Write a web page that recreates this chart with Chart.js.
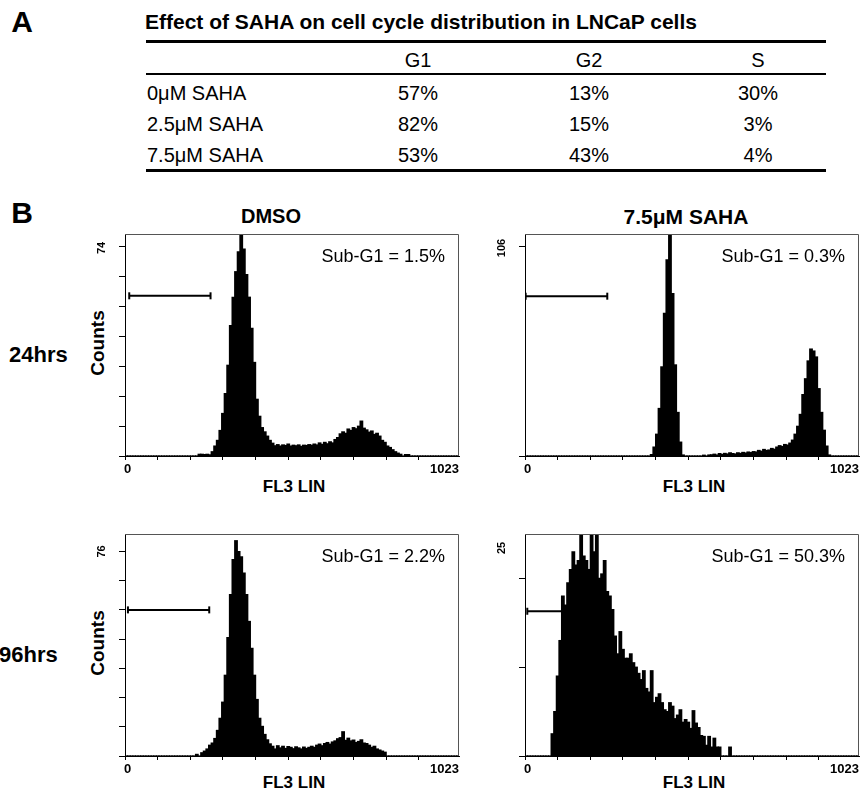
<!DOCTYPE html>
<html>
<head>
<meta charset="utf-8">
<script src="https://cdn.jsdelivr.net/npm/chart.js@4.4.0/dist/chart.umd.min.js"></script>
<style>
  body {
    margin: 0;
    width: 864px;
    height: 792px;
    position: relative;
    overflow: hidden;
    background: #fff;
    color: #000;
    font-family: "Liberation Sans", Arial, sans-serif;
  }
  .t { position: absolute; white-space: nowrap; line-height: 1; }
  .c { transform: translate(-50%, -50%); }
  .l { transform: translate(0, -50%); }
  .b { font-weight: bold; }
  .rot { transform: translate(-50%, -50%) rotate(-90deg); }
  .rule { position: absolute; left: 146px; width: 680px; background: #000; }
  canvas { position: absolute; }
</style>
</head>
<body>

<div class="t c b" style="left:22px; top:22px; font-size:30px;">A</div>
<div class="t l b" id="tableTitle" style="left:145px; top:21px; font-size:21px;"></div>
<div class="rule" style="top:40px; height:3px;"></div>
<div class="rule" style="top:73px; height:2px;"></div>
<div class="rule" style="top:169px; height:3px;"></div>
<div id="tableBox"></div>

<div class="t c b" style="left:22px; top:213px; font-size:30px;">B</div>
<div class="t c b" style="left:271px; top:216px; font-size:20px;">DMSO</div>
<div class="t c b" style="left:686px; top:216px; font-size:21px;">7.5μM SAHA</div>
<div class="t l b" style="left:9px; top:355px; font-size:22px;">24hrs</div>
<div class="t l b" style="left:-1px; top:655px; font-size:22px;">96hrs</div>
<div class="t rot b" style="left:97px; top:343px; font-size:19px;">Counts</div>
<div class="t rot b" style="left:97px; top:643px; font-size:19px;">Counts</div>
<div class="t c b" style="left:294px; top:486px; font-size:17px;">FL3 LIN</div>
<div class="t c b" style="left:694px; top:486px; font-size:17px;">FL3 LIN</div>
<div class="t c b" style="left:294px; top:782px; font-size:17px;">FL3 LIN</div>
<div class="t c b" style="left:694px; top:782px; font-size:17px;">FL3 LIN</div>

<canvas id="h0" width="374" height="250" style="left:91px; top:228px;"></canvas>
<canvas id="h1" width="374" height="250" style="left:491px; top:228px;"></canvas>
<canvas id="h2" width="374" height="250" style="left:91px; top:528px;"></canvas>
<canvas id="h3" width="374" height="250" style="left:491px; top:528px;"></canvas>

<script>
// -------------------------
// DATOS PANEL A (tabla)
// -------------------------
const tableTitle = "Effect of SAHA on cell cycle distribution in LNCaP cells";
const tableColumns = ["G1", "G2", "S"];
const tableRows = ["0μM SAHA", "2.5μM SAHA", "7.5μM SAHA"];
const g1Values = [57, 82, 53];
const g2Values = [13, 15, 43];
const sValues = [30, 3, 4];

// -------------------------
// DATOS PANEL B (histogramas FL3 LIN, canales de 8)
// -------------------------
const binWidth = 8;
const channelStarts = [
  0, 8, 16, 24, 32, 40, 48, 56, 64, 72, 80, 88, 96, 104, 112, 120,
  128, 136, 144, 152, 160, 168, 176, 184, 192, 200, 208, 216, 224, 232, 240, 248,
  256, 264, 272, 280, 288, 296, 304, 312, 320, 328, 336, 344, 352, 360, 368, 376,
  384, 392, 400, 408, 416, 424, 432, 440, 448, 456, 464, 472, 480, 488, 496, 504,
  512, 520, 528, 536, 544, 552, 560, 568, 576, 584, 592, 600, 608, 616, 624, 632,
  640, 648, 656, 664, 672, 680, 688, 696, 704, 712, 720, 728, 736, 744, 752, 760,
  768, 776, 784, 792, 800, 808, 816, 824, 832, 840, 848, 856, 864, 872, 880, 888,
  896, 904, 912, 920, 928, 936, 944, 952, 960, 968, 976, 984, 992, 1000, 1008, 1016
];

// DMSO 24hrs
const dmso24 = [
  0, 0, 0, 0, 0, 0, 0, 0, 0, 0, 0, 0, 0, 0, 0, 0,
  0, 0, 0, 0, 0, 0, 0, 0, 0, 0, 0, 0, 0.6, 0.6, 0.5, 0.6,
  0.4, 1.5, 3.5, 5.5, 9, 15, 22, 32, 46, 56, 65, 72, 78, 73, 64, 56,
  45, 33, 20, 14, 10, 8.5, 7, 5.5, 4.5, 3.6, 4.0, 3.5, 3.9, 3.7, 4.2, 3.5,
  3.8, 3.6, 3.9, 3.4, 3.8, 3.7, 4.0, 3.8, 4.2, 3.9, 4.6, 4.1, 4.8, 4.3, 5.0, 4.6,
  5.8, 6.5, 7.8, 8.5, 8.0, 9.5, 9.0, 10.0, 9.6, 10.5, 12.3, 9.8, 9.2, 8.4, 8.8, 7.6,
  8.0, 7.0, 5.5, 4.8, 3.5, 3.0, 2.2, 1.5, 1.0, 0.6, 0, 0.5, 0.5, 0, 0, 0,
  0, 0, 0, 0, 0, 0, 0, 0, 0, 0, 0, 0, 0, 0, 0, 0
];

// 7.5uM SAHA 24hrs
const saha24 = [
  0, 0, 0, 0, 0, 0, 0, 0, 0, 0, 0, 0, 0, 0, 0, 0,
  0, 0, 0, 0, 0, 0, 0, 0, 0, 0, 0, 0, 0, 0, 0, 0,
  0, 0, 0, 0, 0, 0, 0, 0, 0, 0, 0, 0, 0, 0, 0, 0,
  0.7, 4.5, 11, 24, 45, 72, 99, 112, 82, 46, 22, 7, 0.5, 0, 0, 0,
  0, 0, 0, 0, 0.4, 0, 0.5, 0.6, 0.9, 0.5, 1.2, 0.8, 1.3, 1.0, 1.6, 1.2,
  1.0, 1.6, 1.3, 1.8, 1.5, 2.0, 1.7, 2.2, 2.0, 2.8, 2.4, 3.3, 2.8, 3.0, 3.8, 3.4,
  4.5, 5.2, 4.8, 5.8, 5.5, 6.5, 8, 11, 15, 21, 31, 39, 48, 54, 53, 50,
  34, 22, 13, 5, 0.5, 0, 0, 0, 0, 0, 0, 0, 0, 0, 0, 0
];

// DMSO 96hrs
const dmso96 = [
  0, 0, 0, 0, 0, 0, 0, 0, 0, 0, 0, 0, 0, 0, 0, 0,
  0, 0, 0, 0, 0, 0, 0, 0, 0, 0, 0, 0.6, 0, 1.2, 1.8, 2.6,
  4, 4.8, 6.5, 9.5, 14, 20, 30, 44, 60, 73, 80, 76, 74, 68, 60, 50,
  40, 30, 21, 14, 11, 8, 6, 4.5, 3.6, 2.6, 3.8, 3.0, 3.6, 2.8, 3.5, 3.2,
  2.7, 3.4, 3.0, 2.6, 3.3, 2.8, 3.2, 3.6, 3.2, 4.0, 4.4, 3.8, 4.6, 5.0, 4.4, 5.2,
  5.6, 6.4, 6.8, 9.0, 5.8, 6.6, 5.6, 5.9, 5.0, 5.4, 6.0, 4.8, 4.6, 4.0, 3.2, 3.6,
  2.6, 2.2, 1.8, 1.4, 0, 0, 0, 0, 0, 0, 0, 0, 0, 0, 0, 0,
  0, 0, 0, 0, 0, 0, 0, 0, 0, 0, 0, 0, 0, 0, 0, 0
];

// 7.5uM SAHA 96hrs
const saha96 = [
  0, 0, 0, 0, 0, 0, 0, 0, 0, 0, 2.5, 5, 9, 13, 18, 17,
  19.5, 21, 23, 21.5, 22, 25, 22.5, 22, 21, 25, 23, 25, 20, 20.5, 22, 18.5,
  18, 16.5, 13.5, 11.5, 14, 12, 11, 11, 11.5, 10.5, 10, 9.3, 8.6, 9.6, 7.6, 7.2,
  9.6, 6, 6.6, 7, 6, 5.2, 5, 6, 5.6, 4.2, 4.6, 5.2, 3.8, 4.1, 3.8, 3.1,
  5.1, 3.7, 3.2, 2.3, 2.2, 1.2, 2.2, 1, 2, 1, 1, 0, 0, 0, 1, 0,
  0, 0, 0, 0, 0, 0, 0, 0, 0, 0, 0, 0, 0, 0, 0, 0,
  0, 0, 0, 0, 0, 0, 0, 0, 0, 0, 0, 0, 0, 0, 0, 0,
  0, 0, 0, 0, 0, 0, 0, 0, 0, 0, 0, 0, 0, 0, 0, 0
];

const histograms = [dmso24, saha24, dmso96, saha96];
const subG1 = [1.5, 0.3, 2.2, 50.3];
const yTopLabels = [74, 106, 76, 25];
const yMaxValues = [78.3, 112.1, 82.5, 25];
const yTickSteps = [74 / 7, 106, 76 / 7, 10];
const xTicks = [0, 100, 200, 300, 400, 500, 600, 700, 800, 900];
const xMax = 1023;

// marcador Sub-G1 (canal inicio, canal fin, altura)
const gateStart = [13, 2, 9, 7];
const gateEnd = [262, 252, 258, 250];
const gateLevel = [56.5, 80.7, 54.3, 16.3];

const FONT = '"Liberation Sans", Arial, sans-serif';

// -------------------------
// TABLA
// -------------------------
function addText(txt, x, y, cls, size) {
    const d = document.createElement("div");
    d.className = "t " + cls;
    d.style.left = x + "px";
    d.style.top = y + "px";
    d.style.fontSize = size + "px";
    d.textContent = txt;
    document.getElementById("tableBox").appendChild(d);
}

function buildTable() {
    document.getElementById("tableTitle").textContent = tableTitle;
    const colX = [418, 589, 758];
    const rowY = [93, 124, 155];
    tableColumns.forEach((c, j) => addText(c, colX[j], 60, "c", 20));
    tableRows.forEach((r, i) => {
        addText(r, 147, rowY[i], "l", 20);
        addText(g1Values[i] + "%", colX[0], rowY[i], "c", 20);
        addText(g2Values[i] + "%", colX[1], rowY[i], "c", 20);
        addText(sValues[i] + "%", colX[2], rowY[i], "c", 20);
    });
}

// -------------------------
// DECORACION DEL MARCO
// -------------------------
const facsDecor = {
    id: "facsDecor",
    afterDraw(chart, args, opts) {
        const ctx = chart.ctx;
        const a = chart.chartArea;
        const y = chart.scales.y;

        ctx.save();
        // borde superior y derecho
        ctx.strokeStyle = "#555";
        ctx.lineWidth = 1;
        ctx.beginPath();
        ctx.moveTo(a.left, a.top + 0.5);
        ctx.lineTo(a.right - 0.5, a.top + 0.5);
        ctx.lineTo(a.right - 0.5, a.bottom);
        ctx.stroke();

        ctx.fillStyle = "#000";

        // 0 y 1023 en eje x
        ctx.font = "bold 13px " + FONT;
        ctx.textBaseline = "top";
        ctx.textAlign = "left";
        ctx.fillText("0", a.left - 1, a.bottom + 7);
        ctx.textAlign = "right";
        ctx.fillText(String(xMax), a.right, a.bottom + 7);

        // Sub-G1
        ctx.font = "18px " + FONT;
        ctx.textBaseline = "middle";
        ctx.fillText("Sub-G1 = " + opts.subG1 + "%", a.right - 14, a.top + 23);

        // etiqueta maxima eje y (girada)
        ctx.font = "bold 11px " + FONT;
        ctx.textAlign = "center";
        const ly = Math.max(y.getPixelForValue(opts.yLabel), a.top + 14);
        ctx.translate(a.left - 23, ly);
        ctx.rotate(-Math.PI / 2);
        ctx.fillText(String(opts.yLabel), 0, 0);
        ctx.restore();
    }
};

// -------------------------
// CREAR HISTOGRAMAS
// -------------------------
function createHistogram(i) {
    const ctx = document.getElementById("h" + i).getContext("2d");
    const counts = histograms[i];

    new Chart(ctx, {
        type: "bar",
        data: {
            datasets: [{
                data: counts.map((c, k) => ({ x: channelStarts[k] + binWidth / 2, y: c })),
                backgroundColor: "#000",
                borderWidth: 0,
                barPercentage: 1,
                categoryPercentage: 1,
                inflateAmount: 0.6,
                order: 1
            }, {
                type: "line",
                data: [
                    { x: gateStart[i], y: gateLevel[i] },
                    { x: gateEnd[i], y: gateLevel[i] }
                ],
                fill: false,
                borderColor: "#000",
                borderWidth: 2,
                pointStyle: "line",
                pointRotation: 90,
                pointRadius: 3.5,
                pointBorderWidth: 2,
                pointBorderColor: "#000",
                order: 2
            }]
        },
        options: {
            responsive: false,
            animation: false,
            events: [],
            layout: { padding: { left: 28, right: 2, top: 2, bottom: 18 } },
            plugins: {
                legend: { display: false },
                tooltip: { enabled: false },
                facsDecor: { subG1: subG1[i], yLabel: yTopLabels[i] }
            },
            scales: {
                x: {
                    type: "linear",
                    offset: false,
                    min: 0,
                    max: xMax,
                    afterBuildTicks: s => { s.ticks = xTicks.map(v => ({ value: v })); },
                    grid: { offset: false, drawOnChartArea: false, drawTicks: true, tickLength: 4, color: "#000" },
                    border: { display: true, color: "#000", width: 1 },
                    ticks: { display: false }
                },
                y: {
                    type: "linear",
                    min: 0,
                    max: yMaxValues[i],
                    afterBuildTicks: s => {
                        const t = [];
                        for (let v = 0; v <= yMaxValues[i] + 0.001; v += yTickSteps[i]) t.push({ value: v });
                        s.ticks = t;
                    },
                    grid: { drawOnChartArea: false, drawTicks: true, tickLength: 6, color: "#000" },
                    border: { display: true, color: "#000", width: 1 },
                    ticks: { display: false }
                }
            }
        },
        plugins: [facsDecor]
    });
}

// -------------------------
buildTable();
for (let i = 0; i < 4; i++) createHistogram(i);
</script>
</body>
</html>
